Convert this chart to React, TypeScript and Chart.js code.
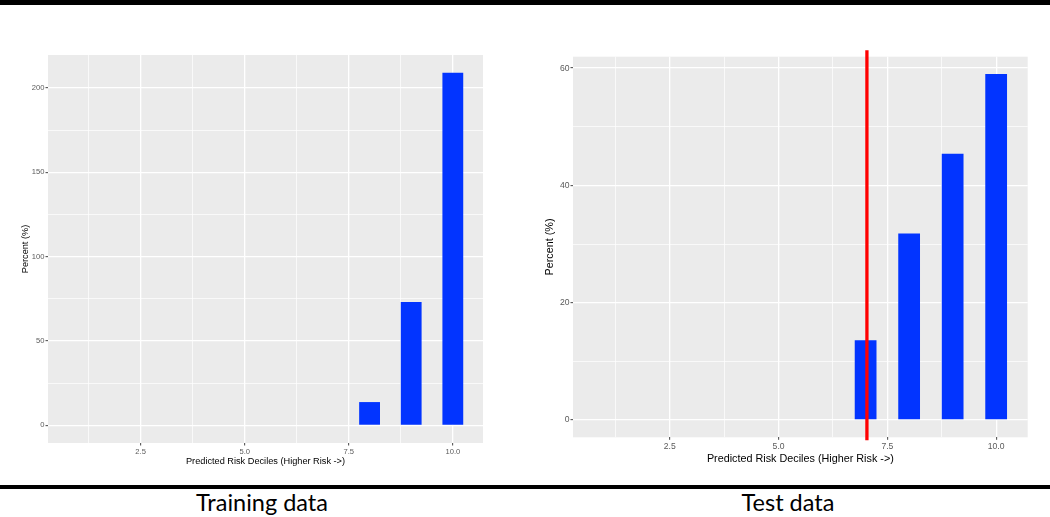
import React, { useEffect, useRef } from "react";
import { Chart, registerables } from "chart.js";

Chart.register(...registerables);

// ---------- data ----------
const deciles = [1, 2, 3, 4, 5, 6, 7, 8, 9, 10];
const trainingPercent = [0, 0, 0, 0, 0, 0, 0, 13.8, 73.1, 209];
const testPercent = [0, 0, 0, 0, 0, 0, 13.6, 31.8, 45.4, 59];

const xMajorTicks = [2.5, 5, 7.5, 10];
const xTickLabels = ["2.5", "5.0", "7.5", "10.0"];
const xMinorTicks = [1.25, 3.75, 6.25, 8.75];

const trainYMajorTicks = [0, 50, 100, 150, 200];
const trainYTickLabels = ["0", "50", "100", "150", "200"];
const trainYMinorTicks = [25, 75, 125, 175];

const testYMajorTicks = [0, 20, 40, 60];
const testYTickLabels = ["0", "20", "40", "60"];
const testYMinorTicks = [10, 30, 50];

const testCutoffDecile = [7.03];

const xTitle = "Predicted Risk Deciles (Higher Risk ->)";
const yTitle = "Percent (%)";
const captions = ["Training data", "Test data"];

// ---------- helpers ----------
const FONT = "'Liberation Sans', Arial, sans-serif";
const BAR_WIDTH = 0.5;

type PanelOpts = {
  values: number[];
  yMajor: number[];
  yLabels: string[];
  yMinor: number[];
  tickSize: number;
  titleSize: number;
  yAxisWidth: number;
  xAxisHeight: number;
  padTop: number;
  padRight: number;
  yTitlePad: number;
  xTitlePad: number;
  xTickPad: number;
  vline?: number[];
};

function makeConfig(o: PanelOpts): any {
  const maxV = Math.max(...o.values);
  const yMin = -0.05 * maxV;
  const yMax = 1.05 * maxV;
  const xLo = deciles[0] - BAR_WIDTH / 2;
  const xHi = deciles[deciles.length - 1] + BAR_WIDTH / 2;
  const xExp = (xHi - xLo) * 0.05;

  const xAll = [...xMajorTicks, ...xMinorTicks].sort((a, b) => a - b);
  const yAll = [...o.yMajor, ...o.yMinor].sort((a, b) => a - b);

  const isXMajor = (v: number) => xMajorTicks.some((m) => Math.abs(m - v) < 1e-9);
  const isYMajor = (v: number) => o.yMajor.some((m) => Math.abs(m - v) < 1e-9);

  const panelBg = {
    id: "panelBg",
    beforeDraw(chart: any) {
      const { ctx, chartArea } = chart;
      ctx.save();
      ctx.fillStyle = "#EBEBEB";
      ctx.fillRect(chartArea.left, chartArea.top, chartArea.right - chartArea.left, chartArea.bottom - chartArea.top);
      ctx.restore();
    },
  };

  const vlinePlugin = {
    id: "vline",
    afterDatasetsDraw(chart: any) {
      if (!o.vline) return;
      const { ctx, chartArea, scales } = chart;
      o.vline.forEach((v) => {
        const x = scales.x.getPixelForValue(v);
        ctx.save();
        ctx.strokeStyle = "#FF0000";
        ctx.lineWidth = 3.3;
        ctx.beginPath();
        ctx.moveTo(x, chartArea.top - 6.5);
        ctx.lineTo(x, chartArea.bottom + 3);
        ctx.stroke();
        ctx.restore();
      });
    },
  };

  return {
    type: "bar",
    data: {
      datasets: [
        {
          data: deciles.map((d, i) => ({ x: d, y: o.values[i] })),
          backgroundColor: "#0234FF",
          borderWidth: 0,
          barPercentage: BAR_WIDTH,
          categoryPercentage: 1,
        },
      ],
    },
    options: {
      animation: false,
      responsive: false,
      devicePixelRatio: 1,
      layout: { padding: { top: o.padTop, right: o.padRight, left: 0, bottom: 0 } },
      plugins: { legend: { display: false }, tooltip: { enabled: false } },
      scales: {
        x: {
          type: "linear",
          offset: false,
          min: xLo - xExp,
          max: xHi + xExp,
          afterBuildTicks: (s: any) => {
            s.ticks = xAll.map((v) => ({ value: v }));
          },
          afterFit: (s: any) => {
            s.height = o.xAxisHeight;
          },
          ticks: {
            autoSkip: false,
            maxRotation: 0,
            padding: o.xTickPad,
            color: "#5A5A5A",
            font: { family: FONT, size: o.tickSize },
            callback: (v: number) => {
              const i = xMajorTicks.findIndex((m) => Math.abs(m - v) < 1e-9);
              return i >= 0 ? xTickLabels[i] : "";
            },
          },
          grid: {
            offset: false,
            color: "#FFFFFF",
            lineWidth: (c: any) => (c.tick && isXMajor(c.tick.value) ? 1.3 : 0.7),
            tickColor: (c: any) => (c.tick && isXMajor(c.tick.value) ? "#444444" : "rgba(0,0,0,0)"),
            tickWidth: 1,
            tickLength: 2.5,
          },
          border: { display: false },
          title: {
            display: true,
            text: xTitle,
            color: "#000000",
            font: { family: FONT, size: o.titleSize },
            padding: { top: 0, bottom: o.xTitlePad },
          },
        },
        y: {
          type: "linear",
          min: yMin,
          max: yMax,
          afterBuildTicks: (s: any) => {
            s.ticks = yAll.map((v) => ({ value: v }));
          },
          afterFit: (s: any) => {
            s.width = o.yAxisWidth;
          },
          ticks: {
            autoSkip: false,
            padding: 1,
            color: "#5A5A5A",
            font: { family: FONT, size: o.tickSize },
            callback: (v: number) => {
              const i = o.yMajor.findIndex((m) => Math.abs(m - v) < 1e-9);
              return i >= 0 ? o.yLabels[i] : "";
            },
          },
          grid: {
            color: "#FFFFFF",
            lineWidth: (c: any) => (c.tick && isYMajor(c.tick.value) ? 1.3 : 0.7),
            tickColor: (c: any) => (c.tick && isYMajor(c.tick.value) ? "#444444" : "rgba(0,0,0,0)"),
            tickWidth: 1,
            tickLength: 2.5,
          },
          border: { display: false },
          title: {
            display: true,
            text: yTitle,
            color: "#000000",
            font: { family: FONT, size: o.titleSize },
            padding: { top: o.yTitlePad, bottom: 0 },
          },
        },
      },
    },
    plugins: [panelBg, vlinePlugin],
  };
}

function Panel(props: { left: number; top: number; width: number; height: number; opts: PanelOpts }) {
  const ref = useRef<HTMLCanvasElement | null>(null);
  useEffect(() => {
    if (!ref.current) return;
    const chart = new Chart(ref.current, makeConfig(props.opts));
    return () => chart.destroy();
  }, []);
  return (
    <canvas
      ref={ref}
      width={props.width}
      height={props.height}
      style={{ position: "absolute", left: props.left, top: props.top, width: props.width, height: props.height }}
    />
  );
}

const captionStyle: React.CSSProperties = {
  position: "absolute",
  width: 240,
  top: 488,
  textAlign: "center",
  fontFamily: "Lato, 'Open Sans', sans-serif",
  fontSize: 23.5,
  lineHeight: "28px",
  color: "#000",
};

export default function App() {
  const trainOpts: PanelOpts = {
    values: trainingPercent,
    yMajor: trainYMajorTicks,
    yLabels: trainYTickLabels,
    yMinor: trainYMinorTicks,
    tickSize: 7.6,
    titleSize: 9.2,
    yAxisWidth: 48,
    xAxisHeight: 37,
    padTop: 15,
    padRight: 37,
    yTitlePad: 19.5,
    xTitlePad: 13.5,
    xTickPad: 2,
  };
  const testOpts: PanelOpts = {
    values: testPercent,
    yMajor: testYMajorTicks,
    yLabels: testYTickLabels,
    yMinor: testYMinorTicks,
    tickSize: 8.6,
    titleSize: 10.8,
    yAxisWidth: 53,
    xAxisHeight: 42.7,
    padTop: 16.7,
    padRight: 22.3,
    yTitlePad: 23.5,
    xTitlePad: 14.5,
    xTickPad: 2,
    vline: testCutoffDecile,
  };
  return (
    <div style={{ position: "fixed", left: 0, top: 0, width: 1050, height: 517, background: "#FFFFFF", overflow: "hidden" }}>
      <div style={{ position: "absolute", left: 0, top: 0, width: 1050, height: 4.5, background: "#000" }} />
      <Panel left={0} top={40} width={520} height={440} opts={trainOpts} />
      <Panel left={520} top={40} width={530} height={440} opts={testOpts} />
      <div style={{ position: "absolute", left: 0, top: 484.5, width: 1050, height: 4.5, background: "#000" }} />
      <div style={{ ...captionStyle, left: 262 - 120 }}>{captions[0]}</div>
      <div style={{ ...captionStyle, left: 788 - 120 }}>{captions[1]}</div>
    </div>
  );
}
